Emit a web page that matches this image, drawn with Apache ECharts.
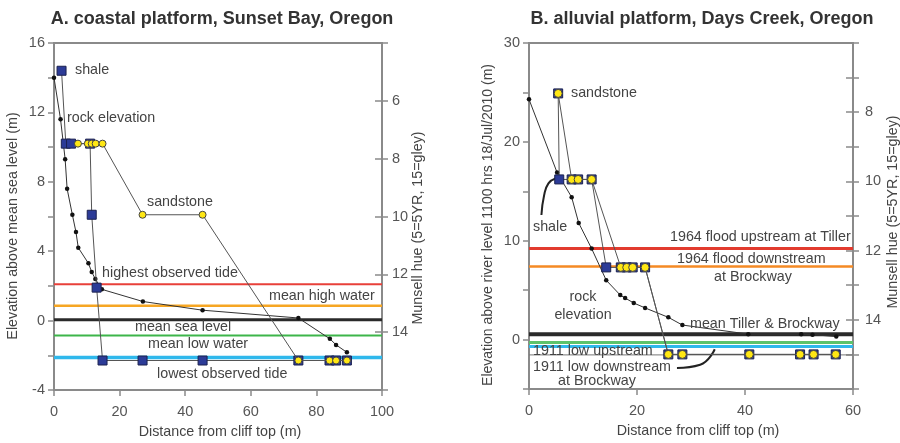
<!DOCTYPE html>
<html><head><meta charset="utf-8">
<script src="https://cdn.jsdelivr.net/npm/echarts@6/dist/echarts.min.js"></script>
<style>html,body{margin:0;padding:0;background:#fff}#c{width:900px;height:443px}</style>
</head><body><div id="c"></div>
<script>
// ---------- Panel A: coastal platform, Sunset Bay ----------
const A_rockX = [0, 2.0, 3.4, 4.0, 5.6, 6.7, 7.4, 10.5, 11.5, 12.6, 14.6, 27.1, 45.3, 74.5, 84.1, 86.0, 89.3];
const A_rockY = [14.0, 11.6, 9.3, 7.6, 6.1, 5.1, 4.2, 3.3, 2.8, 2.4, 1.8, 1.1, 0.6, 0.15, -1.05, -1.4, -1.83];
const A_shaleX = [2.3, 3.6, 5.2, 11.0, 11.5, 13.0, 14.8, 27.0, 45.3, 74.5, 84.0, 86.0, 89.3];
const A_shaleY = [14.4, 10.2, 10.2, 10.2, 6.1, 1.9, -2.3, -2.3, -2.3, -2.3, -2.3, -2.3, -2.3];
const A_sandX = [7.3, 10.3, 11.5, 12.7, 14.8, 27.0, 45.3, 74.5, 84.0, 86.0, 89.3];
const A_sandY = [10.2, 10.2, 10.2, 10.2, 10.2, 6.1, 6.1, -2.3, -2.3, -2.3, -2.3];
const A_levelNames = ['highest observed tide', 'mean high water', 'mean sea level', 'mean low water', 'lowest observed tide'];
const A_levelValues = [2.1, 0.85, 0.05, -0.86, -2.13];

// ---------- Panel B: alluvial platform, Days Creek ----------
const B_rockX = [0, 5.2, 7.9, 9.2, 11.6, 14.3, 16.9, 17.8, 19.4, 21.5, 25.8, 28.4, 40.6, 50.4, 52.5, 56.9];
const B_rockY = [24.3, 16.9, 14.4, 11.8, 9.2, 6.0, 4.5, 4.2, 3.7, 3.2, 2.25, 1.47, 0.55, 0.55, 0.5, 0.3];
const B_shaleX = [5.4, 5.6, 7.9, 9.1, 11.6, 14.3, 17.0, 18.1, 19.2, 21.5, 25.8, 28.4, 40.8, 50.2, 52.7, 56.8];
const B_shaleY = [24.9, 16.2, 16.2, 16.2, 16.2, 7.3, 7.3, 7.3, 7.3, 7.3, -1.5, -1.5, -1.5, -1.5, -1.5, -1.5];
const B_sandX = [5.4, 7.9, 9.1, 11.6, 17.0, 18.1, 19.2, 21.5, 25.8, 28.4, 40.8, 50.2, 52.7, 56.8];
const B_sandY = [24.9, 16.2, 16.2, 16.2, 7.3, 7.3, 7.3, 7.3, -1.5, -1.5, -1.5, -1.5, -1.5, -1.5];
const B_levelNames = ['1964 flood upstream at Tiller', '1964 flood downstream at Brockway', 'mean Tiller & Brockway', '1911 low upstream', '1911 low downstream at Brockway', 'reference'];
const B_levelValues = [9.2, 7.4, 0.53, -0.3, -0.7, -1.55];
// leader curves (annotation arrows)
const B_shaleLeaderX = [2.3, 2.8, 3.6, 4.9];
const B_shaleLeaderY = [12.6, 14.6, 15.8, 16.3];
const B_lowLeaderX = [27.4, 31.7, 34.4];
const B_lowLeaderY = [-2.87, -2.55, -0.98];

// axis ticks
const A_xTicks = [0, 20, 40, 60, 80, 100];
const A_yTicks = [-4, 0, 4, 8, 12, 16];
const A_hueTicks = [6, 8, 10, 12, 14];
const B_xTicks = [0, 20, 40, 60];
const B_yTicks = [0, 10, 20, 30];
const B_hueTicks = [8, 10, 12, 14];

const FONT = '"Liberation Sans", Arial, sans-serif';
const TF = '14.3px ' + FONT;
const AX = '#8a8a8a';
const pts = (xs, ys) => xs.map((x, i) => [x, ys[i]]);

const A_levelColors = ['#e8403a', '#f6a623', '#2a2a2a', '#3db54a', '#2fb8ec'];
const A_levelWidths = [2, 2.5, 3, 2, 3.5];
const B_levelColors = ['#e23b2e', '#f58a24', '#2a2a2a', '#5cc36b', '#2fb8ec', '#777777'];
const B_levelWidths = [3, 2.5, 4, 3, 3, 1];

function xAxis(gi, min, max, interval, ticks) {
  return {
    type: 'value', gridIndex: gi, min, max, interval,
    axisLine: {show: true, onZero: false, lineStyle: {color: AX, width: 2}},
    axisTick: {show: true, length: 6, lineStyle: {color: AX, width: 1.5}},
    splitLine: {show: false},
    axisLabel: {color: '#555', fontSize: 14.5, fontFamily: FONT, margin: 14,
      formatter: v => ticks.includes(v) ? String(v) : ''}
  };
}
function yAxis(gi, pos, min, max, interval, ticks, opts) {
  opts = opts || {};
  return Object.assign({
    type: 'value', gridIndex: gi, position: pos, min, max, interval,
    axisLine: {show: true, onZero: false, lineStyle: {color: AX, width: 2}},
    axisTick: {show: true, length: 6, inside: false, lineStyle: {color: AX, width: 1.5}},
    splitLine: {show: false},
    axisLabel: {color: '#555', fontSize: 14.5, fontFamily: FONT, margin: 9,
      formatter: v => ticks.includes(v) ? String(v) : ''}
  }, opts);
}
function innerY(gi, min, max, interval, inverse) {
  return {type: 'value', gridIndex: gi, position: 'right', min, max, interval, inverse,
    axisLine: {show: false, onZero: false}, axisTick: {show: true, inside: true, length: 7, lineStyle: {color: AX, width: 1.5}},
    axisLabel: {show: false}, splitLine: {show: false}};
}

const series = [];
function levels(names, vals, colors, widths, xi, yi, x0, x1) {
  vals.forEach((v, i) => series.push({
    name: names[i], type: 'line', xAxisIndex: xi, yAxisIndex: yi, silent: true,
    data: [[x0, v], [x1, v]], symbol: 'none', z: 1,
    lineStyle: {color: colors[i], width: widths[i]}
  }));
}
levels(A_levelNames, A_levelValues, A_levelColors, A_levelWidths, 0, 0, 0, 100);
levels(B_levelNames, B_levelValues, B_levelColors, B_levelWidths, 1, 3, 0, 60);

function rock(xs, ys, xi, yi) {
  series.push({type: 'line', xAxisIndex: xi, yAxisIndex: yi, data: pts(xs, ys), z: 3,
    symbol: 'circle', symbolSize: 4.5, itemStyle: {color: '#111'},
    lineStyle: {color: '#333', width: 1}});
}
function shale(xs, ys, xi, yi, size) {
  series.push({type: 'line', xAxisIndex: xi, yAxisIndex: yi, data: pts(xs, ys), z: 4,
    symbol: 'rect', symbolSize: size, itemStyle: {color: '#2c3b97', borderColor: '#1b214f', borderWidth: 1},
    lineStyle: {color: '#555', width: 1}});
}
function sand(xs, ys, xi, yi, size) {
  series.push({type: 'line', xAxisIndex: xi, yAxisIndex: yi, data: pts(xs, ys), z: 5,
    symbol: 'circle', symbolSize: size, itemStyle: {color: '#ffe714', borderColor: '#444', borderWidth: 1},
    lineStyle: {color: '#555', width: 1}});
}
rock(A_rockX, A_rockY, 0, 0);
shale(A_shaleX, A_shaleY, 0, 0, 9);
sand(A_sandX, A_sandY, 0, 0, 7);
rock(B_rockX, B_rockY, 1, 3);
shale(B_shaleX, B_shaleY, 1, 3, 9);
sand(B_sandX, B_sandY, 1, 3, 8);
[[B_shaleLeaderX, B_shaleLeaderY], [B_lowLeaderX, B_lowLeaderY]].forEach(([xs, ys]) => series.push({
  type: 'line', xAxisIndex: 1, yAxisIndex: 3, data: pts(xs, ys), smooth: true, symbol: 'none', z: 2,
  lineStyle: {color: '#222', width: 2}, silent: true}));

function txt(t, x, y, o) {
  o = o || {};
  return {type: 'text', x, y, z: 10, rotation: o.rotation || 0,
    style: Object.assign({text: t, fill: '#444', font: TF, textAlign: 'left', textVerticalAlign: 'middle'}, o.style || {})};
}
const TC = {style: {textAlign: 'center'}};
const ROT = f => ({rotation: Math.PI / 2, style: {textAlign: 'center', font: f}});
const graphic = [
  txt('A. coastal platform, Sunset Bay, Oregon', 222, 19, {style: {textAlign: 'center', font: 'bold 18px ' + FONT, fill: '#333'}}),
  txt('B. alluvial platform, Days Creek, Oregon', 702, 19, {style: {textAlign: 'center', font: 'bold 18px ' + FONT, fill: '#333'}}),
  txt('Elevation above mean sea level (m)', 13, 226, ROT(TF)),
  txt('Munsell hue (5=5YR, 15=gley)', 418, 228, ROT(TF)),
  txt('Distance from cliff top (m)', 220, 432, TC),
  txt('Elevation above river level 1100 hrs 18/Jul/2010 (m)', 488, 225, ROT('14px ' + FONT)),
  txt('Munsell hue (5=5YR, 15=gley)', 893, 212, ROT(TF)),
  txt('Distance from cliff top (m)', 698, 431, TC),
  // panel A annotations
  txt('shale', 75, 70), txt('rock elevation', 67, 118), txt('sandstone', 147, 202),
  txt('highest observed tide', 102, 273), txt('mean high water', 269, 296), txt('mean sea level', 135, 327),
  txt('mean low water', 148, 344), txt('lowest observed tide', 157, 374),
  // panel B annotations
  txt('sandstone', 571, 93), txt('shale', 533, 227),
  txt('rock', 583, 297, TC), txt('elevation', 583, 315, TC),
  txt('1964 flood upstream at Tiller', 670, 237), txt('1964 flood downstream', 677, 259), txt('at Brockway', 753, 277, TC),
  txt('mean Tiller & Brockway', 690, 324),
  txt('1911 low upstream', 533, 351), txt('1911 low downstream', 533, 367), txt('at Brockway', 597, 381, TC)
];

const option = {
  animation: false,
  backgroundColor: '#fff',
  grid: [
    {left: 54, top: 43, width: 328, height: 347, show: true, borderColor: AX, borderWidth: 2, backgroundColor: 'transparent'},
    {left: 529, top: 43, width: 324, height: 346, show: true, borderColor: AX, borderWidth: 2, backgroundColor: 'transparent'}
  ],
  xAxis: [xAxis(0, 0, 100, 20, A_xTicks), xAxis(1, 0, 60, 20, B_xTicks)],
  yAxis: [
    yAxis(0, 'left', -4, 16, 2, A_yTicks),
    yAxis(0, 'right', 4, 16, 2, A_hueTicks, {inverse: true, axisLabel: {color: '#555', fontSize: 14.5, fontFamily: FONT, margin: 10, formatter: v => A_hueTicks.includes(v) ? String(v) : ''}}),
    innerY(0, 4, 16, 2, true),
    yAxis(1, 'left', -5, 30, 5, B_yTicks),
    yAxis(1, 'right', 6, 16, 1, B_hueTicks, {inverse: true, axisLabel: {color: '#555', fontSize: 14.5, fontFamily: FONT, margin: 12, formatter: v => B_hueTicks.includes(v) ? String(v) : ''}}),
    innerY(1, 6, 16, 1, true)
  ],
  series,
  graphic
};
echarts.init(document.getElementById('c'), null, {renderer: 'canvas'}).setOption(option);
</script></body></html>
